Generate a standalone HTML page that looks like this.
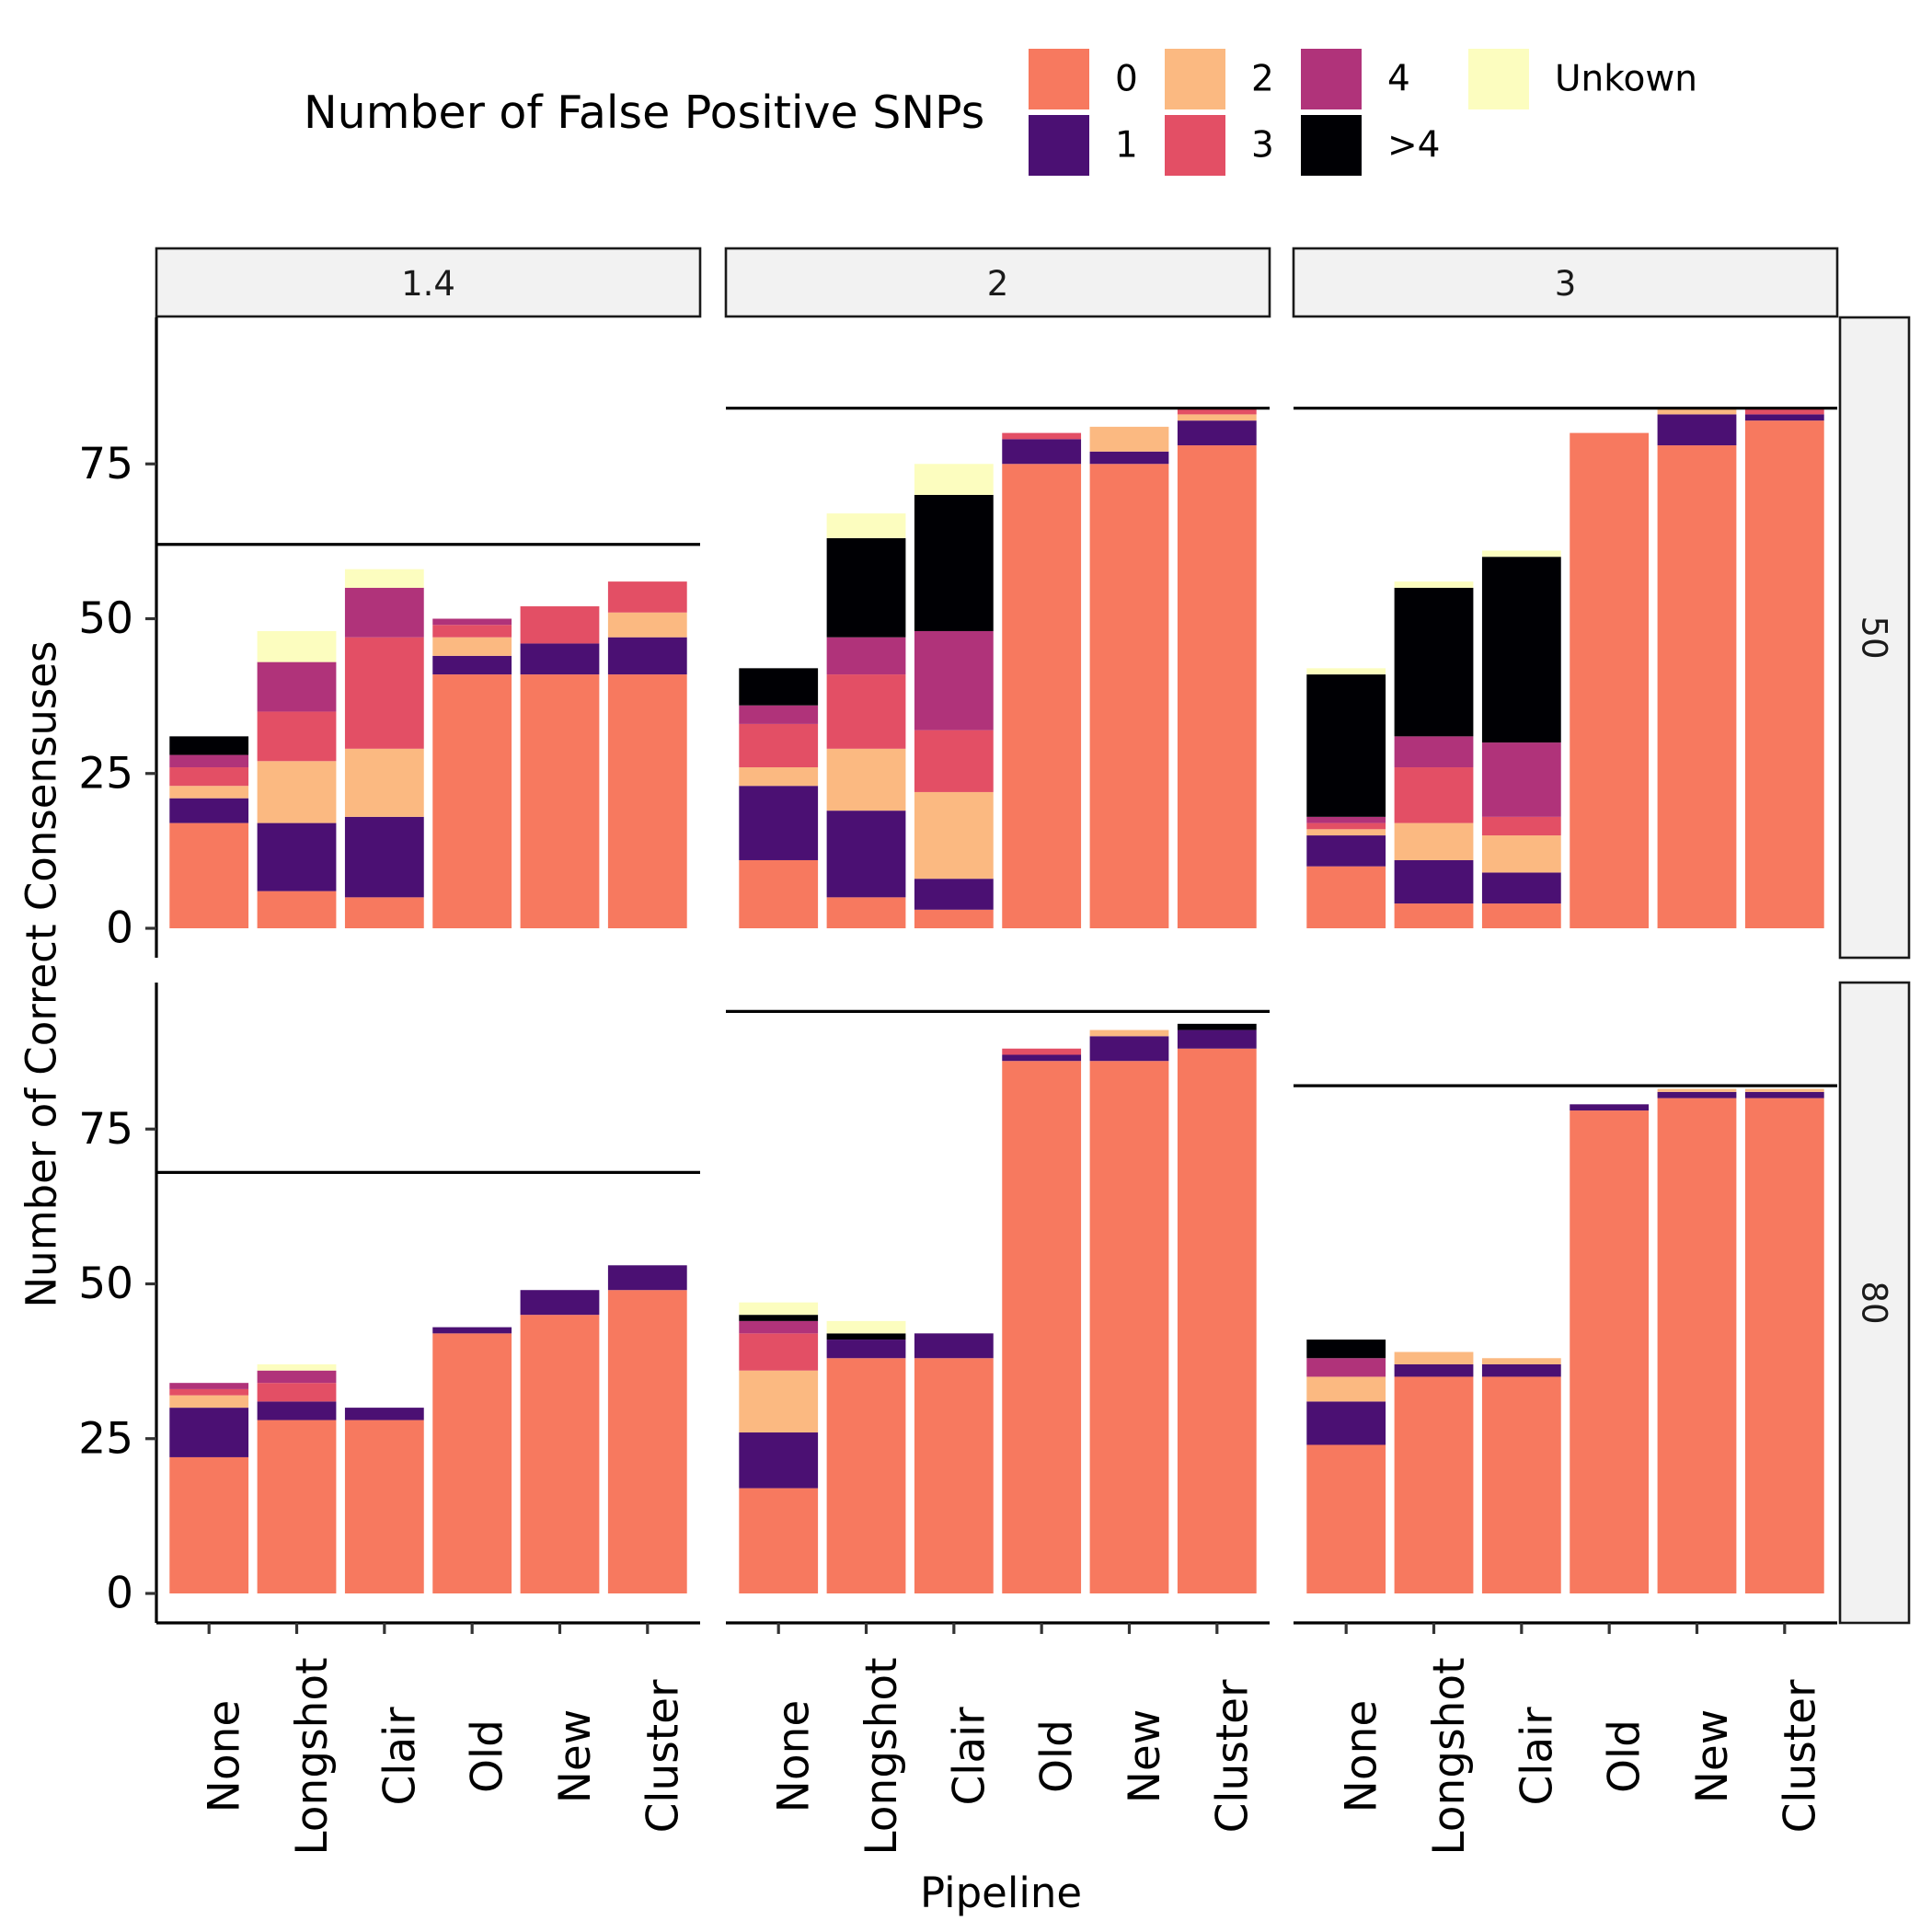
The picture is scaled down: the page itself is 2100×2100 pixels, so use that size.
<!DOCTYPE html>
<html><head><meta charset="utf-8"><style>
html,body{margin:0;padding:0;background:#fff}
svg{display:block;font-family:"DejaVu Sans","Liberation Sans",sans-serif}
</style></head><body>
<svg id="chart" width="2100" height="2100" viewBox="0 0 2100 2100" xmlns="http://www.w3.org/2000/svg"></svg>
<script>
const pipelines = ["None","Longshot","Clair","Old","New","Cluster"];
const colFacets = ["1.4","2","3"];
const rowFacets = ["50","80"];
const fpCategories = ["0","1","2","3","4",">4","Unkown"];
const fpColors = ["#F7795F","#4B1073","#FBB981","#E34F65","#B0337A","#000004","#FCFDBF"];
const yTicks = [0,25,50,75];
// values per category (0,1,2,3,4,>4,Unknown) per pipeline
const p14_50 = [[17,4,2,3,2,3,0],[6,11,10,8,8,0,5],[5,13,11,18,8,0,3],[41,3,3,2,1,0,0],[41,5,0,6,0,0,0],[41,6,4,5,0,0,0]];
const p2_50  = [[11,12,3,7,3,6,0],[5,14,10,12,6,16,4],[3,5,14,10,16,22,5],[75,4,0,1,0,0,0],[75,2,4,0,0,0,0],[78,4,1,1,0,0,0]];
const p3_50  = [[10,5,1,1,1,23,1],[4,7,6,9,5,24,1],[4,5,6,3,12,30,1],[80,0,0,0,0,0,0],[78,5,1,0,0,0,0],[82,1,0,1,0,0,0]];
const p14_80 = [[22,8,2,1,1,0,0],[28,3,0,3,2,0,1],[28,2,0,0,0,0,0],[42,1,0,0,0,0,0],[45,4,0,0,0,0,0],[49,4,0,0,0,0,0]];
const p2_80  = [[17,9,10,6,2,1,2],[38,3,0,0,0,1,2],[38,4,0,0,0,0,0],[86,1,0,1,0,0,0],[86,4,1,0,0,0,0],[88,3,0,0,0,1,0]];
const p3_80  = [[24,7,4,0,3,3,0],[35,2,2,0,0,0,0],[35,2,1,0,0,0,0],[78,1,0,0,0,0,0],[80,1,0.5,0,0,0,0],[80,1,0.5,0,0,0,0]];
const panelData = [[p14_50,p2_50,p3_50],[p14_80,p2_80,p3_80]];
const totalLines = [[62,84,84],[68,94,82]];

const NS="http://www.w3.org/2000/svg";
const svg=document.getElementById('chart');
function mk(tag,attrs,parent){const e=document.createElementNS(NS,tag);for(const k in attrs)e.setAttribute(k,attrs[k]);(parent||svg).appendChild(e);return e;}

const colX=[170,789,1406], PW=591;
const rowTop=[345,1068], PH=696;
const ZERO_OFF=32, PXU=6.73;
function yScale(r,v){return rowTop[r]+PH-ZERO_OFF-v*PXU;}
const band=PW/(pipelines.length-1+1.2);
function xCenter(c,i){return colX[c]+band*(0.6+i);}
const BW=band*0.9;
const SX=2000;

colFacets.forEach((f,c)=>{
  const s=mk('rect',{x:colX[c],y:270,width:PW,height:74,fill:'#F2F2F2',stroke:'#1a1a1a','stroke-width':2.6});
  
  
  const t=mk('text',{x:colX[c]+PW/2,y:321,'text-anchor':'middle','font-size':37,fill:'#1a1a1a'});
  t.textContent=f;
  
  
});
rowFacets.forEach((f,r)=>{
  const s=mk('rect',{x:SX,y:rowTop[r],width:75,height:PH,fill:'#F2F2F2',stroke:'#1a1a1a','stroke-width':2.6});
  
  
  const cy=rowTop[r]+PH/2, cx=SX+37;
  const t=mk('text',{x:cx,y:cy,'text-anchor':'middle','dominant-baseline':'central','font-size':37,fill:'#1a1a1a',transform:`rotate(90 ${cx} ${cy})`});
  t.textContent=f;
  
  
});

for(let r=0;r<2;r++)for(let c=0;c<3;c++){
  const g=mk('g',{});
  
  
  panelData[r][c].forEach((vals,i)=>{
    let cum=0;
    vals.forEach((v,k)=>{
      if(v<=0)return;
      const y1=yScale(r,cum), y2=yScale(r,cum+v);
      const b=mk('rect',{x:xCenter(c,i)-BW/2,y:y2,width:BW,height:y1-y2,fill:fpColors[k]},g);
      
      
      cum+=v;
    });
  });
  const yl=yScale(r,totalLines[r][c]);
  const hl=mk('line',{x1:colX[c],x2:colX[c]+PW,y1:yl,y2:yl,stroke:'#000','stroke-width':3.2},g);
  
  
}

for(let r=0;r<2;r++){
  const a=mk('line',{x1:170,x2:170,y1:rowTop[r],y2:rowTop[r]+PH,stroke:'#000','stroke-width':3.2});
  
  
  yTicks.forEach(v=>{
    const y=yScale(r,v);
    const tk=mk('line',{x1:158,x2:170,y1:y,y2:y,stroke:'#333','stroke-width':3.2});
    
    
    const t=mk('text',{x:145,y:y,'text-anchor':'end','dominant-baseline':'central','font-size':47,fill:'#000'});
    t.textContent=v;
    
    
  });
}
for(let c=0;c<3;c++){
  const yb=rowTop[1]+PH;
  const a=mk('line',{x1:colX[c],x2:colX[c]+PW,y1:yb,y2:yb,stroke:'#000','stroke-width':3.2});
  
  
  pipelines.forEach((p,i)=>{
    const x=xCenter(c,i);
    const tk=mk('line',{x1:x,x2:x,y1:yb,y2:yb+12,stroke:'#333','stroke-width':3.2});
    
    
    const tx=x+17, ty=1909;
    const t=mk('text',{x:tx,y:ty,'text-anchor':'middle','dominant-baseline':'central','font-size':47,fill:'#000',transform:`rotate(-90 ${tx} ${ty})`});
    t.textContent=p;
    
    
  });
}
const xt=mk('text',{x:1088,y:2073,'text-anchor':'middle','font-size':45,fill:'#000'});
xt.textContent='Pipeline';


const yt=mk('text',{x:45,y:1059,'text-anchor':'middle','dominant-baseline':'central','font-size':45,fill:'#000',transform:'rotate(-90 45 1059)'});
yt.textContent='Number of Correct Consensuses';



const lt=mk('text',{x:330,y:139,'font-size':49,fill:'#000'});
lt.textContent='Number of False Positive SNPs';


const keyX=[1118,1118,1266,1266,1414,1414,1596];
const keyY=[53,125,53,125,53,125,53];
const labX=[1212,1212,1360,1360,1508,1508,1690];
fpCategories.forEach((cat,k)=>{
  const g=mk('g',{});
  
  
  mk('rect',{x:keyX[k],y:keyY[k],width:66,height:66,fill:fpColors[k]},g);
  const t=mk('text',{x:labX[k],y:keyY[k]+33,'dominant-baseline':'central','font-size':39,fill:'#000'},g);
  t.textContent=cat;
});
</script>
</body></html>
